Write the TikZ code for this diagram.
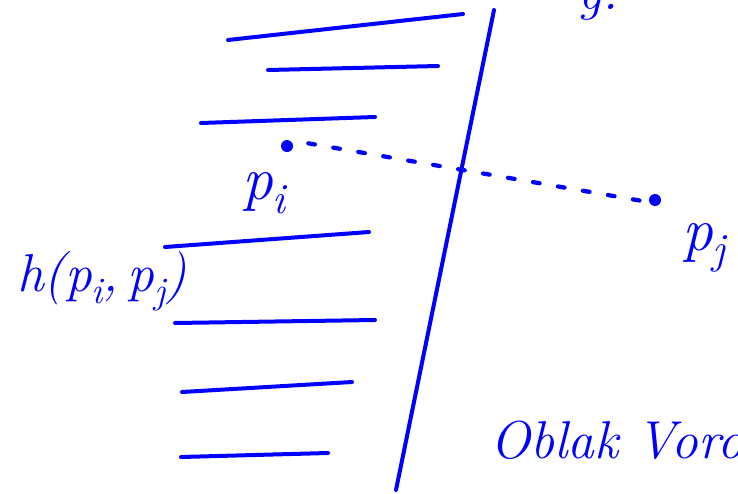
\documentclass[tikz,border=0pt]{standalone}
\usepackage{fontspec}
\definecolor{pen}{RGB}{0,0,255}
\newcommand{\lowidx}[1]{\raisebox{-0.22em}{\scalebox{0.7}{\itshape #1}}}
\begin{document}
\begin{tikzpicture}[x=0.75pt,y=-0.75pt,
  stroke/.style={draw=pen,line width=3pt,line cap=round},
  dotline/.style={draw=pen,line width=3.2pt,line cap=round,dash pattern=on 5pt off 14pt},
  lbl/.style={text=pen,inner sep=0pt}]
\useasboundingbox (0,0) rectangle (738,493);
\clip (0,0) rectangle (738,493);
% horizontal strokes
\draw[stroke] (228,40) -- (463,14);
\draw[stroke] (268,70) -- (438,66);
\draw[stroke] (201,123) -- (375,117);
\draw[stroke] (165,247) -- (369,232);
\draw[stroke] (175,323) -- (375,320);
\draw[stroke] (182,392) -- (352,382);
\draw[stroke] (181,457) -- (328,453);
% long dividing stroke
\draw[stroke] (494,10) -- (396,490);
% points
\coordinate (pi) at (287,146);
\coordinate (pj) at (655,200);
\fill[pen] (pi) circle (4.5pt);
\fill[pen] (pj) circle (4.5pt);
\draw[dotline] ([xshift=16,yshift=2]pi) -- ([xshift=-8,yshift=-1]pj);
% labels
\node[lbl,font=\fontsize{46}{50}\selectfont\itshape] (lpi) at (264,193) {p\lowidx{i}};
\node[lbl,font=\fontsize{46}{50}\selectfont\itshape] (lpj) at (704,248) {p\lowidx{j}};
\node[lbl,font=\fontsize{40}{44}\selectfont\itshape] (lh) at (102,281) {h(p\lowidx{i},\,p\lowidx{j})};
\node[lbl,font=\fontsize{40}{44}\selectfont\itshape,anchor=west] (cap) at (490,440) {Oblak Voronoi};
\node[lbl,font=\fontsize{40}{44}\selectfont\itshape,anchor=base west] (top) at (578,9) {g.};
\end{tikzpicture}
\end{document}
